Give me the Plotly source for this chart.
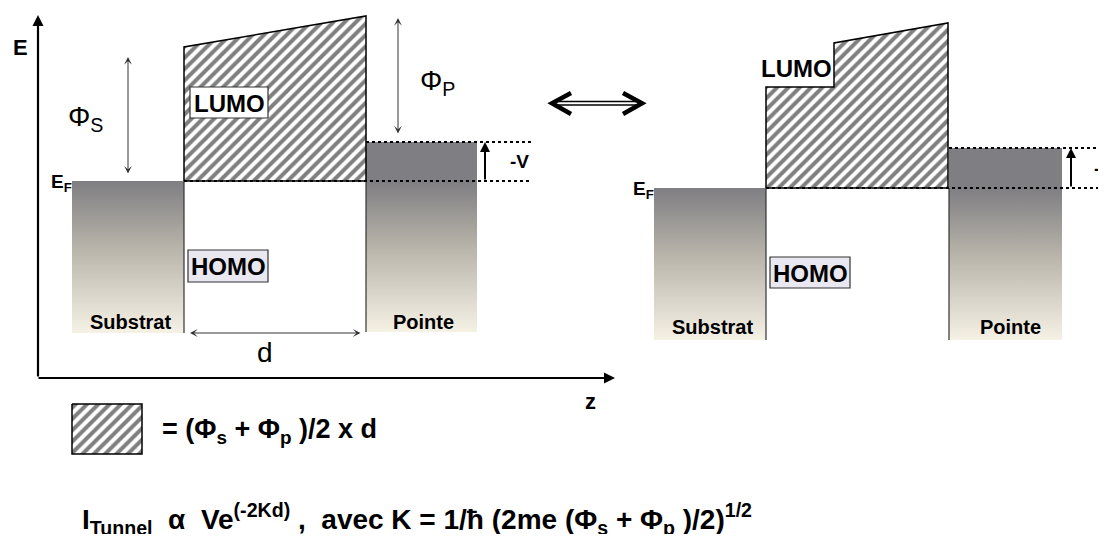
import plotly.graph_objects as go

# diagram geometry, in pixels of the 1106x542 window (y grows downward)
W, H = 1106, 542
OFF = 8  # page body margin

# left panel
L_SUB_X = [72, 184]
L_EF = 181
L_BOT = 333
L_LUMO_X = [184, 184, 366, 366]
L_LUMO_Y = [181, 47, 16, 181]
L_TIP_X = [366, 477]
L_TIP_TOP = 142
L_DOT_END = 532

# right panel
R_SUB_X = [654, 766]
R_EF = 188
R_BOT = 340
R_LUMO_X = [766, 766, 834, 834, 948, 948]
R_LUMO_Y = [188, 87, 87, 43, 23, 188]
R_TIP_X = [949, 1062]
R_TIP_TOP = 148
R_DOT_END = 1106

# axes of the left panel
AX_ORIGIN = (38, 378)
AX_E_TOP = 15
AX_Z_END = 615

# legend swatch
LEG_X = [72, 142]
LEG_Y = [404, 454]

GRAY = "#7f7e82"
CREAM = "#f5f1e5"
FONT = "Liberation Sans, Arial, sans-serif"

fig = go.Figure()


def hatch(xs, ys):
    fig.add_trace(go.Scatter(
        x=list(xs) + [xs[0]], y=list(ys) + [ys[0]],
        mode="lines", fill="toself",
        fillpattern=dict(shape="/", fgcolor="black", bgcolor="white",
                         size=8, solidity=0.5),
        line=dict(color="black", width=1.5),
        hoverinfo="skip", showlegend=False))


def block(x0, x1, y0, y1, grad=True):
    kw = {}
    if grad:
        kw["fillgradient"] = dict(type="vertical", start=y0, stop=y1,
                                  colorscale=[[0, GRAY], [0.45, "#b9b5ab"], [1, CREAM]])
    else:
        kw["fillcolor"] = GRAY
    fig.add_trace(go.Scatter(
        x=[x0, x1, x1, x0, x0], y=[y0, y0, y1, y1, y0],
        mode="lines", fill="toself", line=dict(width=0),
        hoverinfo="skip", showlegend=False, **kw))


# blocks
block(L_SUB_X[0], L_SUB_X[1], L_EF, L_BOT)
block(L_TIP_X[0], L_TIP_X[1], L_TIP_TOP, L_EF, grad=False)
block(L_TIP_X[0], L_TIP_X[1], L_EF, L_BOT - 1)
block(R_SUB_X[0], R_SUB_X[1], R_EF, R_BOT)
block(R_TIP_X[0], R_TIP_X[1], R_TIP_TOP, R_EF, grad=False)
block(R_TIP_X[0], R_TIP_X[1], R_EF, R_BOT)

hatch(L_LUMO_X, L_LUMO_Y)
hatch(R_LUMO_X, R_LUMO_Y)
hatch([LEG_X[0], LEG_X[1], LEG_X[1], LEG_X[0]], [LEG_Y[0], LEG_Y[0], LEG_Y[1], LEG_Y[1]])

shapes = []
thin = dict(color="#333", width=1.2)
dot = dict(color="black", width=2, dash="dot")
# separators
for x, y0, y1 in [(L_SUB_X[1], L_EF, L_BOT), (L_TIP_X[0], L_EF, L_BOT - 1),
                  (R_SUB_X[1], R_EF, R_BOT), (R_TIP_X[0], R_EF, R_BOT)]:
    shapes.append(dict(type="line", x0=x, x1=x, y0=y0, y1=y1, line=thin))
# dotted Fermi levels
shapes += [
    dict(type="line", x0=L_SUB_X[1], x1=L_DOT_END, y0=L_EF, y1=L_EF, line=dot),
    dict(type="line", x0=L_TIP_X[0], x1=L_DOT_END, y0=L_TIP_TOP, y1=L_TIP_TOP, line=dot),
    dict(type="line", x0=R_SUB_X[1], x1=R_DOT_END, y0=R_EF, y1=R_EF, line=dot),
    dict(type="line", x0=R_TIP_X[0], x1=R_DOT_END, y0=R_TIP_TOP, y1=R_TIP_TOP, line=dot),
]
# label boxes
shapes += [
    dict(type="rect", x0=190, x1=268, y0=87, y1=118, fillcolor="white",
         line=dict(color="#333", width=1.2), layer="above"),
    dict(type="rect", x0=188, x1=268, y0=250, y1=282, fillcolor="#e9e7ef",
         line=dict(color="#333", width=1.2), layer="above"),
    dict(type="rect", x0=770, x1=850, y0=257, y1=288, fillcolor="#e9e7ef",
         line=dict(color="#333", width=1.2), layer="above"),
]
# big double arrow between panels
shapes += [
    dict(type="line", x0=558, x1=636, y0=101.5, y1=101.5, line=dict(color="black", width=1.3)),
    dict(type="line", x0=558, x1=636, y0=105, y1=105, line=dict(color="black", width=1.3)),
    dict(type="path", path="M 571 93 L 552 103.3 L 571 114", line=dict(color="black", width=4.5)),
    dict(type="path", path="M 623 93 L 642 103.3 L 623 114", line=dict(color="black", width=4.5)),
]

ann = []


def arrow(x, y, ax, ay, width=1, head=2, size=1, both=False, color="black"):
    ann.append(dict(x=x, y=y, ax=ax, ay=ay, xref="x", yref="y", axref="x", ayref="y",
                    text="", showarrow=True, arrowhead=head, arrowsize=size,
                    arrowwidth=width, arrowcolor=color,
                    arrowside="end+start" if both else "end",
                    startarrowhead=head, startarrowsize=size, font=dict(size=10)))


def label(x, y, text, size, bold=True, xanchor="center", yanchor="middle",
          color="black", family=FONT):
    if bold:
        text = "<b>" + text + "</b>"
    ann.append(dict(x=x, y=y, xref="x", yref="y", text=text, showarrow=False,
                    xanchor=xanchor, yanchor=yanchor,
                    font=dict(family=family, size=size, color=color)))


# axes
arrow(AX_ORIGIN[0], AX_E_TOP, AX_ORIGIN[0], AX_ORIGIN[1], width=2.2, size=1)
arrow(AX_Z_END, AX_ORIGIN[1], AX_ORIGIN[0] - 1, AX_ORIGIN[1], width=2.2, size=1)
label(20, 47, "E", 22)
label(590, 401, "z", 22)

# work functions, d, bias
arrow(128, 57, 128, 175, width=1, head=3, size=1.3, both=True, color="#333")
arrow(398, 18, 398, 135, width=1, head=3, size=1.3, both=True, color="#333")
arrow(190, 333, 362, 333, width=1, head=3, size=1.3, both=True, color="#333")
arrow(485, L_TIP_TOP, 485, L_EF, width=2, size=1)
arrow(1071, R_TIP_TOP, 1071, R_EF, width=2, size=1)
label(85, 118, "Φ<sub>S</sub>", 28, bold=False)
label(437, 82, "Φ<sub>P</sub>", 28, bold=False)
label(265, 352, "d", 28, bold=False)
label(519, 161, "-V", 19)
label(1092, 168, "-V", 19, xanchor="left")

# Fermi level labels
label(49, 183, "E<sub>F</sub>", 19, xanchor="left")
label(631, 190, "E<sub>F</sub>", 19, xanchor="left")

# band labels
label(229, 103, "LUMO", 24)
label(228, 266, "HOMO", 24)
label(796, 68, "LUMO", 24)
label(810, 273, "HOMO", 24)
label(130, 322, "Substrat", 20)
label(423, 322, "Pointe", 20)
label(712, 327, "Substrat", 20)
label(1010, 327, "Pointe", 20)

# bottom text
label(160, 431, "= (Φ<sub>s</sub> + Φ<sub>p</sub> )/2 x d", 27, xanchor="left")
label(80, 519, "I<sub>Tunnel</sub>  α  Ve<sup>(-2Kd)</sup> ,  avec K = 1/ħ (2me (Φ<sub>s</sub> + Φ<sub>p</sub> )/2)<sup>1/2</sup>",
      28, xanchor="left")

fig.update_layout(
    width=W - 2 * OFF, height=H - 2 * OFF,
    margin=dict(l=0, r=0, t=0, b=0),
    plot_bgcolor="white", paper_bgcolor="white",
    xaxis=dict(range=[OFF, W - OFF], visible=False, fixedrange=True),
    yaxis=dict(range=[H - OFF, OFF], visible=False, fixedrange=True),
    shapes=shapes, annotations=ann,
    showlegend=False,
)

fig.write_html("out.html")
